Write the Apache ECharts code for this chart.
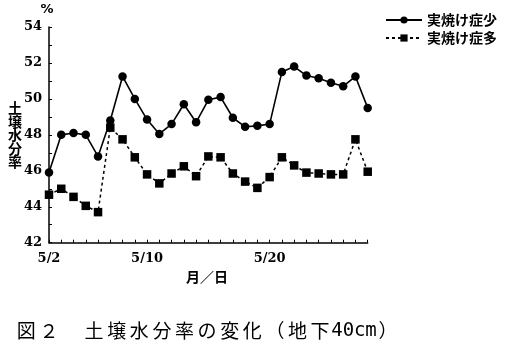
<!DOCTYPE html>
<html>
<head>
<meta charset="utf-8">
<script src="https://cdn.jsdelivr.net/npm/echarts@6/dist/echarts.min.js"></script>
<style>
html,body{margin:0;padding:0;background:#fff;}
#chart{width:517px;height:357px;}
</style>
</head>
<body>
<div id="chart"></div>
<script>
// ---- data ----
const dates = ['5/2','5/3','5/4','5/5','5/6','5/7','5/8','5/9','5/10','5/11','5/12','5/13','5/14','5/15',
  '5/16','5/17','5/18','5/19','5/20','5/21','5/22','5/23','5/24','5/25','5/26','5/27','5/28'];
const shownDateLabels = ['5/2','5/10','5/20'];
const lowName = '実焼け症少';
const highName = '実焼け症多';
const lowValues = [45.9,48.0,48.1,48.0,46.8,48.8,51.25,50.0,48.85,48.05,48.6,49.7,48.7,49.95,
  50.1,48.95,48.45,48.5,48.6,51.5,51.8,51.3,51.15,50.9,50.7,51.25,49.5];
const highValues = [44.67,45.0,44.55,44.05,43.7,48.4,47.75,46.75,45.8,45.3,45.85,46.25,45.7,46.8,
  46.75,45.85,45.4,45.05,45.65,46.75,46.3,45.9,45.85,45.8,45.8,47.75,45.95];
const yTitle = '土壌水分率';
const yUnit = '%';
const xTitle = '月／日';
const caption = '図２　土壌水分率の変化（地下40cm）';

// ---- chart ----
const chart = echarts.init(document.getElementById('chart'), null, {renderer:'canvas'});
const numFont = {fontFamily:'DejaVu Serif', fontWeight:'bold', fontSize:13, color:'#000'};

// caption characters laid out on a fixed pitch
const capEls = [];
let cx = 15;
for (const ch of caption) {
  const half = /[\x20-\x7e]/.test(ch);
  const w = half ? 11.3 : 22.6;
  capEls.push({type:'text', x: cx + w/2, y: 331,
    style:{text: ch, align:'center', verticalAlign:'middle',
      font: (half ? '19px "DejaVu Sans Mono"' : '19px "Noto Sans CJK JP"'), fill:'#000'}});
  cx += w;
}

chart.setOption({
  animation:false,
  backgroundColor:'#fff',
  grid:{left:49, top:27, width:318.7, height:215.7},
  legend:{
    data:[lowName, highName], orient:'vertical', left:380, top:8,
    itemWidth:36, itemHeight:9, itemGap:4,
    textStyle:{fontFamily:'Noto Sans CJK JP', fontWeight:'bold', fontSize:14, color:'#000', lineHeight:14}
  },
  xAxis:{
    type:'category', data:dates, boundaryGap:false,
    axisLine:{lineStyle:{color:'#000', width:1.5}},
    axisTick:{show:true, interval:0, inside:true, length:3, lineStyle:{color:'#000', width:1}},
    axisLabel:Object.assign({interval:(i,v)=>shownDateLabels.includes(v), margin:9}, numFont),
    splitLine:{show:false}
  },
  yAxis:{
    type:'value', min:42, max:54, interval:2,
    name:yUnit, nameGap:11, nameTextStyle:{fontFamily:'DejaVu Sans', fontSize:13, color:'#000', fontWeight:'bold', padding:[0,0,0,-4]},
    axisLine:{show:true, lineStyle:{color:'#000', width:1.5}},
    axisTick:{show:true, inside:true, length:3, lineStyle:{color:'#000'}},
    minorTick:{show:true, splitNumber:2, length:3, lineStyle:{color:'#000'}},
    axisLabel:Object.assign({margin:7}, numFont),
    splitLine:{show:false}
  },
  series:[
    {name:lowName, type:'line', data:lowValues, symbol:'circle', symbolSize:8.5, showAllSymbol:true,
      itemStyle:{color:'#000'}, lineStyle:{color:'#000', width:1.6}},
    {name:highName, type:'line', data:highValues, symbol:'rect', symbolSize:8.5, showAllSymbol:true,
      itemStyle:{color:'#000'}, lineStyle:{color:'#000', width:1.5, type:[3,3]}}
  ],
  graphic:[
    {type:'text', x:15, y:135, style:{text: yTitle.split('').join('\n'), align:'center', verticalAlign:'middle',
      font:'bold 14px "Noto Sans CJK JP"', lineHeight:13.5, fill:'#000'}},
    {type:'text', x:207, y:277, style:{text:xTitle, align:'center', verticalAlign:'middle',
      font:'bold 14px "Noto Sans CJK JP"', fill:'#000'}}
  ].concat(capEls)
});
</script>
</body>
</html>
